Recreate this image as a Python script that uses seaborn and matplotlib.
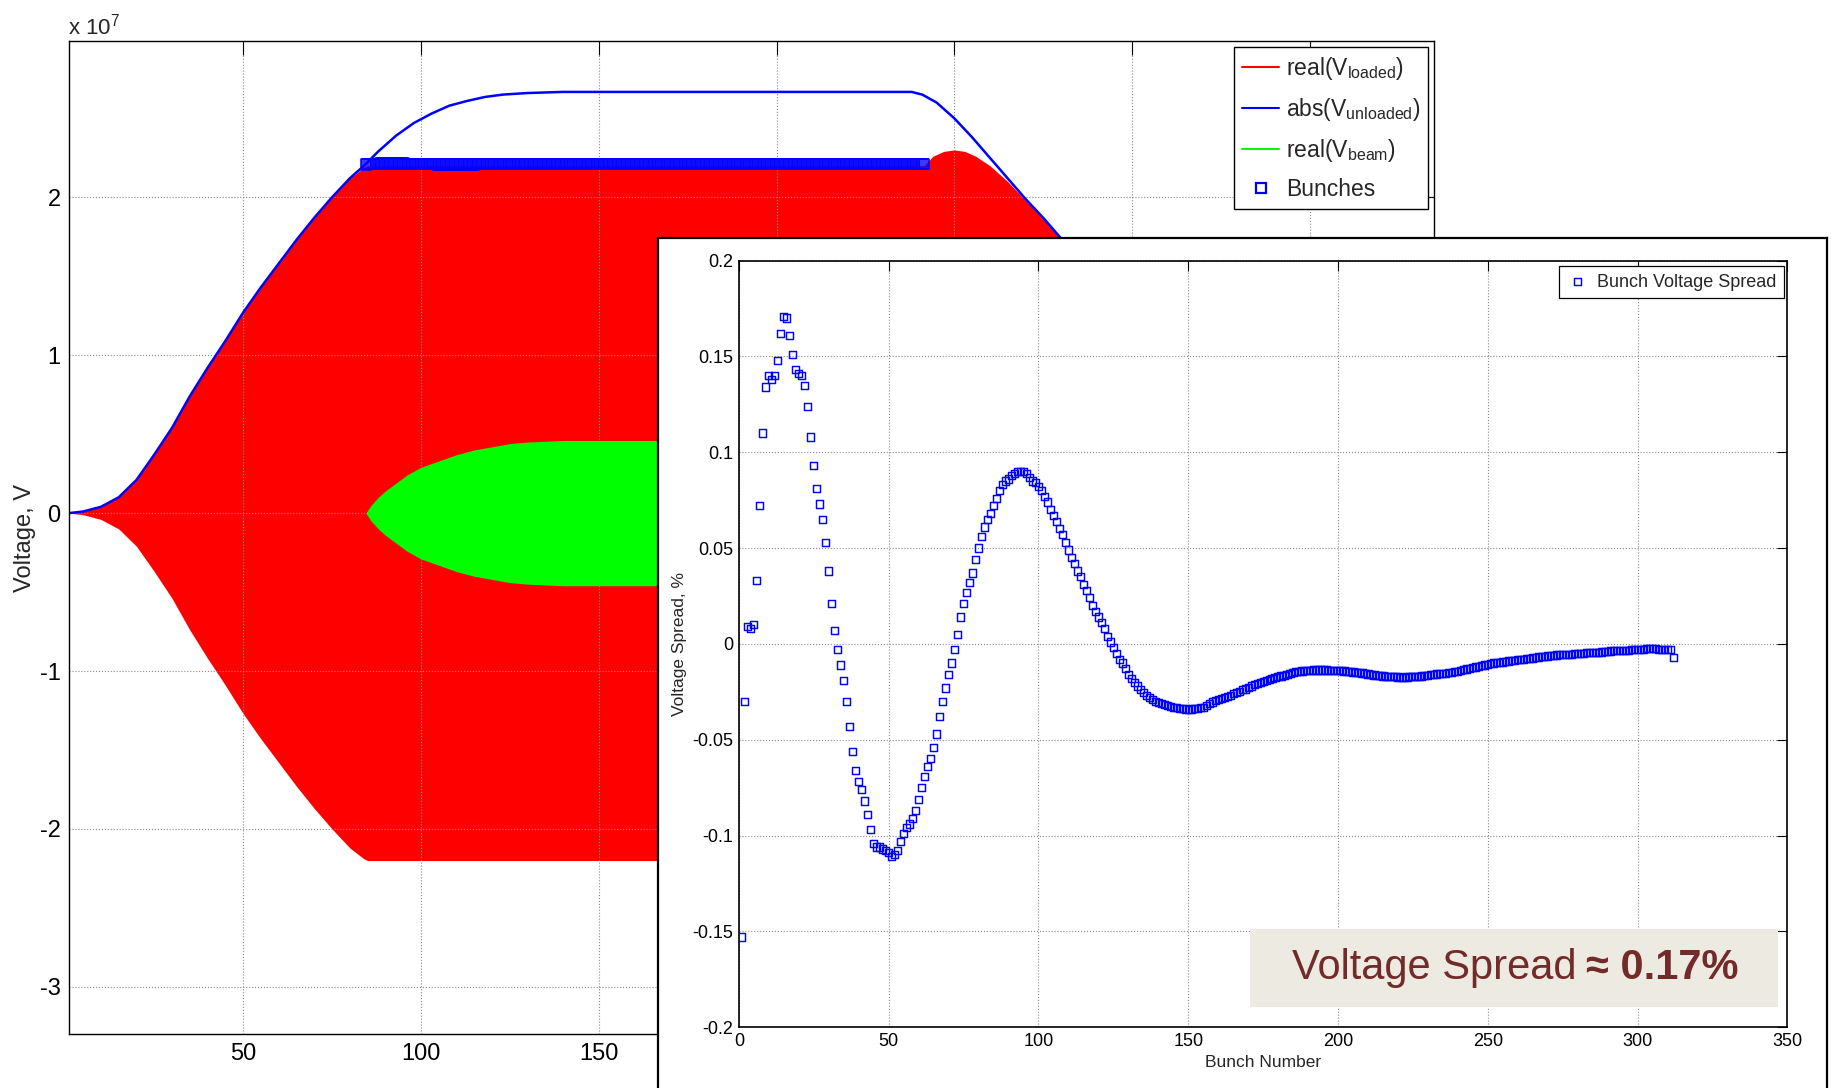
import matplotlib
matplotlib.use("Agg")
import matplotlib.pyplot as plt
import seaborn as sns
import pandas as pd
from matplotlib.lines import Line2D
from matplotlib.patches import Rectangle

# ---------------- data ----------------
# main plot: time axis, voltage in units of 1e7 V
loaded_env_t = [1, 5, 10, 15, 20, 25, 30, 35, 40, 45, 50, 55, 60, 65, 70, 75, 80, 84, 85,
                241.5, 244, 247, 250, 253, 256, 260, 265, 270, 275, 280, 290, 300, 320, 340, 360, 385]
loaded_env_v = [0, 0.01, 0.04, 0.10, 0.21, 0.37, 0.54, 0.74, 0.92, 1.09, 1.27, 1.43, 1.58, 1.73, 1.87, 2.00, 2.12, 2.19, 2.20,
                2.20, 2.26, 2.29, 2.30, 2.29, 2.26, 2.20, 2.10, 1.98, 1.87, 1.74, 1.50, 1.27, 0.87, 0.55, 0.33, 0.15]

unloaded_t = [1, 5, 10, 15, 20, 25, 30, 35, 40, 45, 50, 55, 60, 65, 70, 75, 80, 84, 88, 93, 98, 103, 108, 113,
              118, 123, 130, 140, 238, 241, 245, 250, 255, 260, 265, 270, 275, 280, 290, 300, 320, 340, 360, 385]
unloaded_v = [0, 0.01, 0.04, 0.10, 0.21, 0.37, 0.54, 0.74, 0.92, 1.09, 1.27, 1.43, 1.58, 1.73, 1.87, 2.00, 2.12, 2.20,
              2.29, 2.39, 2.47, 2.53, 2.58, 2.61, 2.635, 2.65, 2.66, 2.667, 2.667, 2.65, 2.60, 2.50, 2.38, 2.25, 2.12,
              1.99, 1.87, 1.74, 1.50, 1.27, 0.87, 0.55, 0.33, 0.15]

beam_env_t = [84.5, 86, 88, 90, 93, 96, 100, 105, 110, 115, 120, 125, 130, 140, 241.5, 260, 280, 300]
beam_env_v = [0, 0.05, 0.10, 0.14, 0.19, 0.24, 0.29, 0.33, 0.37, 0.40, 0.42, 0.44, 0.45, 0.46, 0.46, 0.30, 0.15, 0.05]

bunch_level = 2.21        # 1e7 V
bunch_t_start = 84.5
bunch_period = 0.505

# inset: bunch voltage spread, % (bunches 1..312)
spread = [
    -0.153, -0.030, 0.009, 0.008, 0.010, 0.033, 0.072, 0.110, 0.134, 0.140,
    0.138, 0.140, 0.148, 0.162, 0.171, 0.170, 0.161, 0.151, 0.143, 0.141,
    0.140, 0.135, 0.124, 0.108, 0.093, 0.081, 0.073, 0.065, 0.053, 0.038,
    0.021, 0.007, -0.003, -0.011, -0.019, -0.030, -0.043, -0.056, -0.066, -0.072,
    -0.076, -0.082, -0.089, -0.097, -0.104, -0.106, -0.106, -0.107, -0.108, -0.109,
    -0.111, -0.110, -0.108, -0.103, -0.099, -0.096, -0.094, -0.091, -0.087, -0.081,
    -0.075, -0.069, -0.064, -0.060, -0.054, -0.047, -0.038, -0.030, -0.023, -0.016,
    -0.010, -0.003, 0.005, 0.014, 0.021, 0.027, 0.032, 0.037, 0.044, 0.050,
    0.056, 0.061, 0.065, 0.068, 0.072, 0.076, 0.080, 0.083, 0.085, 0.086,
    0.088, 0.089, 0.090, 0.090, 0.090, 0.089, 0.087, 0.085, 0.084, 0.082,
    0.080, 0.077, 0.074, 0.070, 0.067, 0.064, 0.060, 0.057, 0.053, 0.049,
    0.045, 0.042, 0.038, 0.035, 0.031, 0.028, 0.024, 0.020, 0.017, 0.014,
    0.011, 0.008, 0.004, 0.001, -0.002, -0.005, -0.008, -0.010, -0.013, -0.016,
    -0.018, -0.020, -0.022, -0.024, -0.0255, -0.027, -0.028, -0.029, -0.030, -0.0305,
    -0.031, -0.0315, -0.032, -0.0325, -0.033, -0.0333, -0.0336, -0.0338, -0.034, -0.0342,
    -0.034, -0.0339, -0.0337, -0.0334, -0.033, -0.0322, -0.0312, -0.0303, -0.0295, -0.029,
    -0.0285, -0.028, -0.0275, -0.0268, -0.026, -0.0253, -0.0247, -0.024, -0.0235, -0.0228,
    -0.022, -0.0212, -0.0205, -0.020, -0.0195, -0.019, -0.0186, -0.018, -0.0176, -0.0172,
    -0.0168, -0.0165, -0.016, -0.0155, -0.015, -0.0146, -0.0143, -0.0141, -0.0139, -0.0138,
    -0.0137, -0.0136, -0.0136, -0.0136, -0.0136, -0.0136, -0.0137, -0.0137, -0.0138, -0.0139,
    -0.014, -0.0141, -0.0143, -0.0145, -0.0147, -0.0149, -0.015, -0.0152, -0.0154, -0.0157,
    -0.0159, -0.0162, -0.0165, -0.0167, -0.0168, -0.0170, -0.0171, -0.0172, -0.0172, -0.0173,
    -0.0174, -0.0174, -0.0173, -0.0172, -0.0172, -0.0171, -0.017, -0.0168, -0.0165, -0.0163,
    -0.0161, -0.0159, -0.0157, -0.0155, -0.0154, -0.0153, -0.0151, -0.0148, -0.0146, -0.0143,
    -0.0139, -0.0135, -0.0131, -0.0127, -0.0124, -0.0121, -0.0118, -0.0114, -0.0110, -0.0107,
    -0.0103, -0.0100, -0.0098, -0.0096, -0.0094, -0.0092, -0.0089, -0.0087, -0.0085, -0.0083,
    -0.0081, -0.0080, -0.0078, -0.0076, -0.0074, -0.0072, -0.0069, -0.0067, -0.0065, -0.0063,
    -0.0061, -0.0059, -0.0058, -0.0057, -0.0056, -0.0056, -0.0055, -0.0054, -0.0052, -0.0051,
    -0.0050, -0.0049, -0.0047, -0.0046, -0.0045, -0.0045, -0.0045, -0.0042, -0.0040, -0.0038,
    -0.0037, -0.0036, -0.0035, -0.0035, -0.0035, -0.0034, -0.0033, -0.0031, -0.0031, -0.0030,
    -0.0029, -0.0028, -0.0026, -0.0024, -0.0023, -0.0026, -0.0029, -0.0030, -0.0031, -0.0031,
    -0.0031, -0.0073,
]
bunch_number = list(range(1, len(spread) + 1))

main_xticks = [50, 100, 150, 200, 250, 300, 350]
# labels of the ticks that sit under the inset are not visible in the reference
main_xtick_labels = ["50", "100", "150", "", "", "", ""]
main_yticks = [-3, -2, -1, 0, 1, 2]
inset_xticks = [0, 50, 100, 150, 200, 250, 300, 350]
inset_yticks = [-0.2, -0.15, -0.1, -0.05, 0, 0.05, 0.1, 0.15, 0.2]
inset_ytick_labels = ["-0.2", "-0.15", "-0.1", "-0.05", "0", "0.05", "0.1", "0.15", "0.2"]

# ---------------- style ----------------
sns.set_theme(style="white")
plt.rcParams["font.family"] = ["Liberation Sans", "DejaVu Sans"]
plt.rcParams["mathtext.fontset"] = "custom"
plt.rcParams["mathtext.rm"] = "Liberation Sans"
plt.rcParams["mathtext.it"] = "Liberation Sans:italic"
plt.rcParams["mathtext.bf"] = "Liberation Sans:bold"
plt.rcParams["axes.unicode_minus"] = False

RED, BLUE, GREEN = "#FF0000", "#0000FF", "#00FF00"
GRIDC = "#8a8a8a"

fig = plt.figure(figsize=(18.33, 10.88), dpi=100)
fig.patch.set_facecolor("white")

# ---------------- main axes ----------------
ax = fig.add_axes([0.0376, 0.0494, 0.7449, 0.913])
ax.set_facecolor("white")

env_df = pd.DataFrame({"t": loaded_env_t, "v": loaded_env_v})
ax.fill_between(env_df["t"], -env_df["v"], env_df["v"], color=RED, lw=0, zorder=2)

beam_df = pd.DataFrame({"t": beam_env_t, "v": beam_env_v})
ax.fill_between(beam_df["t"], -beam_df["v"], beam_df["v"], color=GREEN, lw=0, zorder=4)

unl_df = pd.DataFrame({"t": unloaded_t, "v": unloaded_v})
sns.lineplot(data=unl_df, x="t", y="v", color=BLUE, lw=1.8, ax=ax, zorder=3, sort=False)

bunch_df = pd.DataFrame({
    "t": [bunch_t_start + (n - 1) * bunch_period for n in bunch_number],
    "v": [bunch_level * (1 + s / 100.0) for s in spread],
})
sns.scatterplot(data=bunch_df, x="t", y="v", marker="s", s=55, color=BLUE,
                facecolor="none", edgecolor=BLUE, linewidth=1.1, ax=ax, zorder=5)

ax.set_xlim(1, 385)
ax.set_ylim(-3.3, 2.99)
ax.set_xticks(main_xticks)
ax.set_xticklabels(main_xtick_labels)
ax.set_yticks(main_yticks)
ax.set_yticklabels([str(v) for v in main_yticks])
ax.set_xlabel("")
ax.set_ylabel("Voltage, V", fontsize=17, labelpad=3)
ax.grid(True, color=GRIDC, lw=0.8, ls=":")
ax.set_axisbelow(False)
for gl in ax.get_xgridlines() + ax.get_ygridlines():
    gl.set_zorder(1)
ax.tick_params(direction="in", length=10, width=0.8, top=True, right=True,
               labelsize=17, pad=6, colors="black")
for sp in ax.spines.values():
    sp.set_color("black")
    sp.set_linewidth(1.0)
    sp.set_zorder(6)

handles = [
    Line2D([], [], color=RED, lw=1.5),
    Line2D([], [], color=BLUE, lw=1.5),
    Line2D([], [], color=GREEN, lw=1.5),
    Line2D([], [], color=BLUE, marker="s", ls="none", mfc="none", mew=1.6, ms=7),
]
labels = [
    r"$\mathregular{real(V_{loaded})}$",
    r"$\mathregular{abs(V_{unloaded})}$",
    r"$\mathregular{real(V_{beam})}$",
    "Bunches",
]
leg = ax.legend(handles, labels, loc="upper right", bbox_to_anchor=(0.9957, 0.9941),
                fontsize=16.5, frameon=True, fancybox=False, edgecolor="black", framealpha=1,
                borderpad=0.35, labelspacing=0.62, handlelength=1.6, handletextpad=0.3,
                borderaxespad=0)
leg.get_frame().set_linewidth(1.0)
leg.set_zorder(10)

fig.text(0.037, 0.968, r"x $\mathregular{10^{7}}$", fontsize=16, ha="left", va="baseline")

# ---------------- inset panel ----------------
pax = fig.add_axes([0.359, -0.05, 0.6378, 0.8309])
pax.set_zorder(5)
pax.set_facecolor("white")
pax.set_xticks([])
pax.set_yticks([])
for name, sp in pax.spines.items():
    sp.set_color("black")
    sp.set_linewidth(1.6)
pax.spines["bottom"].set_visible(False)

iax = fig.add_axes([0.4031, 0.0559, 0.572, 0.7046])
iax.set_zorder(6)
iax.set_facecolor("white")

sp_df = pd.DataFrame({"Bunch Number": bunch_number, "spread": spread})
sns.scatterplot(data=sp_df, x="Bunch Number", y="spread", marker="s", s=27, color=BLUE,
                facecolor="none", edgecolor=BLUE, linewidth=1.05, ax=iax, zorder=3,
                label="Bunch Voltage Spread")

iax.set_xlim(0, 350)
iax.set_ylim(-0.2, 0.2)
iax.set_xticks(inset_xticks)
iax.set_xticklabels([str(v) for v in inset_xticks])
iax.set_yticks(inset_yticks)
iax.set_yticklabels(inset_ytick_labels)
iax.set_xlabel("Bunch Number", fontsize=12.5, labelpad=4)
iax.set_ylabel("Voltage Spread, %", fontsize=12.5, labelpad=4)
iax.grid(True, color=GRIDC, lw=0.8, ls=":")
iax.tick_params(direction="in", length=7, width=0.8, top=True, right=True,
                labelsize=13, pad=4, colors="black")
for sp in iax.spines.values():
    sp.set_color("black")
    sp.set_linewidth(1.2)

ileg = iax.legend(loc="upper right", bbox_to_anchor=(0.9967, 0.9924), fontsize=13,
                  frameon=True, fancybox=False, edgecolor="black", framealpha=1,
                  borderpad=0.4, handlelength=1.2, handletextpad=0.5, borderaxespad=0,
                  markerscale=1.0)
ileg.get_frame().set_linewidth(0.9)

# annotation box
box = Rectangle((0.6818, 0.0741), 0.2882, 0.0720, transform=fig.transFigure,
                facecolor="#EDEAE1", edgecolor="none", zorder=10, clip_on=False)
iax.add_patch(box)
TXTC = "#722A2A"
iax.text(0.8603, 0.0999, "Voltage Spread", transform=fig.transFigure, ha="right",
         va="baseline", fontsize=30, color=TXTC, zorder=11)
iax.text(0.8654, 0.0999, "\u2248 0.17%", transform=fig.transFigure, ha="left",
         va="baseline", fontsize=30, fontweight="bold", color=TXTC, zorder=11)

fig.savefig("out.png", dpi=100, facecolor="white")
